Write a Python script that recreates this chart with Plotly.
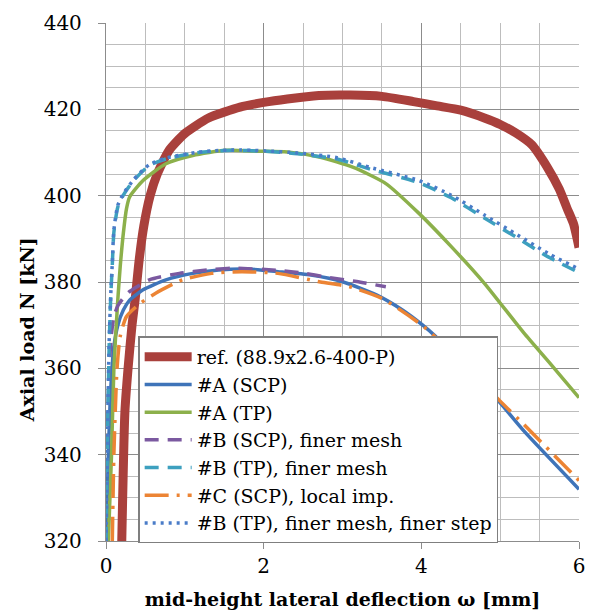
import plotly.graph_objects as go

# ---- data ----
ref_x = [0.20,0.24,0.28,0.33,0.37,0.42,0.48,0.56,0.65,0.80,1.00,1.30,1.70,2.00,2.30,2.70,3.10,3.50,3.90,4.20,4.50,4.80,5.00,5.20,5.40,5.60,5.75,5.85,5.93,6.00]
ref_n = [320,350,360,370,376,385,393,400,405,410.5,414.4,418,420.5,421.6,422.4,423.2,423.3,423,421.8,420.8,419.8,418,416.5,414.5,411.8,406.5,401.5,397,393.5,388]

a_scp_x = [0.00,0.03,0.06,0.10,0.15,0.22,0.30,0.47,0.76,1.10,1.43,1.80,2.18,2.60,3.01,3.43,3.76,4.01,4.18,4.50,4.80,5.00,5.30,6.00]
a_scp_n = [320,340,355,365,370,373.5,375.8,378.2,380.5,382,382.8,383,382.4,381.6,380,377,373.5,370.1,367.4,361.5,356,352,345.5,332]

a_tp_x = [0.03,0.07,0.10,0.15,0.18,0.22,0.26,0.30,0.47,0.76,1.10,1.52,1.93,2.30,2.72,3.13,3.55,3.97,4.38,4.80,5.30,5.63,6.00]
a_tp_n = [320,340,360,376,383.5,391.3,397,399.7,403.5,407.4,409.3,410.5,410.3,410.1,408.9,406.6,402.8,395.9,388.2,379.7,368.2,361.2,353.2]

b_scp_x = [0.00,0.02,0.04,0.07,0.10,0.15,0.22,0.30,0.55,0.93,1.30,1.60,2.18,2.52,2.81,3.18,3.55]
b_scp_n = [320,345,360,368,372,374.5,376.3,377.8,380.5,382,382.8,383.2,382.7,382,381.1,380.1,378.9]

b_tp_x = [0.00,0.02,0.04,0.06,0.08,0.10,0.15,0.22,0.35,0.55,0.76,1.18,1.60,2.00,2.43,2.93,3.34,3.97,4.38,4.80,5.22,5.63,6.00]
b_tp_n = [320,345,365,376.5,384,391.5,397.4,400.1,403.5,407,408.5,410,410.5,410.3,409.7,408.5,406.2,403,399.5,394.8,390.2,385.6,382.2]

c_scp_x = [0.08,0.10,0.14,0.18,0.26,0.43,0.63,0.97,1.34,1.72,2.18,2.72,3.09,3.50,4.00,4.18,4.50,4.80,5.00,5.30,6.00]
c_scp_n = [320,340,360,367.4,372,375,377.4,380.5,382,382.4,382,380,378.9,376.2,370.1,367.2,361.5,356.2,352.4,347,334]

b_tp_fs_x = [0.00,0.02,0.04,0.06,0.08,0.10,0.15,0.22,0.35,0.55,0.76,1.18,1.60,2.00,2.43,2.93,3.34,3.97,4.38,4.80,5.22,5.63,6.00]
b_tp_fs_n = [320,346,366,377,384.5,392,397.8,400.4,403.7,407.2,408.7,410.1,410.6,410.4,409.9,408.8,406.6,403.5,400.1,395.5,390.9,386.4,383.0]

names = ["ref. (88.9x2.6-400-P)", "#A (SCP)", "#A (TP)", "#B (SCP), finer mesh",
         "#B (TP), finer mesh", "#C (SCP), local imp.", "#B (TP), finer mesh, finer step"]

x_title = "mid-height lateral deflection ω [mm]"
y_title = "Axial load N [kN]"

series = [
    (ref_x, ref_n, "#A9403C", 9, "solid"),
    (a_scp_x, a_scp_n, "#3F74B9", 3.5, "solid"),
    (a_tp_x, a_tp_n, "#8CB04B", 3.5, "solid"),
    (b_scp_x, b_scp_n, "#7B59A0", 3.5, "14px,9px"),
    (b_tp_x, b_tp_n, "#3DA0BF", 3.5, "14px,9px"),
    (c_scp_x, c_scp_n, "#EC8434", 3.5, "24px,8px,3px,8px"),
    (b_tp_fs_x, b_tp_fs_n, "#4A7CC8", 3.5, "3px,5px"),
]

fig = go.Figure()
for (xs, ys, col, w, dash), nm in zip(series, names):
    fig.add_trace(go.Scatter(x=xs, y=ys, mode="lines", name=nm,
                             line=dict(color=col, width=w, dash=dash, shape="spline", smoothing=0.6)))

font_family = "DejaVu Serif"
fig.update_layout(
    width=594, height=615,
    margin=dict(l=105.5, r=8.5, t=22.6, b=73),
    paper_bgcolor="white", plot_bgcolor="white",
    font=dict(family=font_family, color="black"),
    legend=dict(x=0.068, y=0.395, xanchor="left", yanchor="top",
                bgcolor="white", bordercolor="#7f7f7f", borderwidth=1.5,
                font=dict(family=font_family, size=19, color="black"),
                itemwidth=47, tracegroupgap=0),
    showlegend=True,
    annotations=[dict(text="<b>" + y_title + "</b>", textangle=-90,
                      xref="paper", yref="paper", x=-0.168, y=0.408,
                      xanchor="center", yanchor="middle", showarrow=False,
                      font=dict(family=font_family, size=19, color="black"))],
)
fig.update_xaxes(
    range=[0, 6], dtick=2, tick0=0,
    showgrid=True, gridcolor="#8c8c8c", gridwidth=1.3,
    minor=dict(dtick=0.5, showgrid=True, gridcolor="#bdbdbd", gridwidth=1.3),
    ticks="outside", ticklen=7, tickcolor="#8c8c8c", tickwidth=1.3,
    showline=True, linecolor="#8c8c8c", linewidth=1.3,
    zeroline=False,
    tickfont=dict(family=font_family, size=20, color="black"),
    title=dict(text="<b>" + x_title + "</b>",
               font=dict(family=font_family, size=19, color="black"), standoff=15),
)
fig.update_yaxes(
    range=[320, 440], dtick=20, tick0=320,
    showgrid=True, gridcolor="#8c8c8c", gridwidth=1.3,
    minor=dict(dtick=5, showgrid=True, gridcolor="#bdbdbd", gridwidth=1.3),
    ticks="outside", ticklen=7, tickcolor="#8c8c8c", tickwidth=1.3,
    showline=True, linecolor="#8c8c8c", linewidth=1.3,
    zeroline=False,
    tickfont=dict(family=font_family, size=20, color="black"),
    ticklabelstandoff=12,
)

fig.write_html("out.html")
